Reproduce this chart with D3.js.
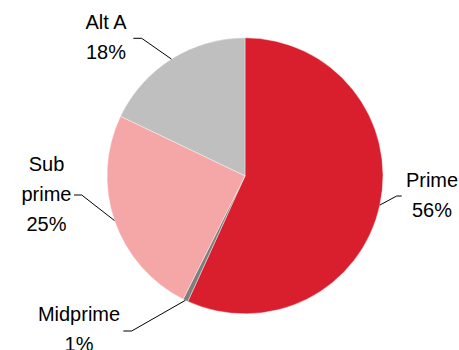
<!DOCTYPE html>
<html><head><meta charset="utf-8">
<script src="https://cdn.jsdelivr.net/npm/d3@7/dist/d3.min.js"></script>
<style>body{margin:0;background:#fff}svg{display:block}</style>
</head><body>
<svg id="c" width="459" height="350"></svg>
<script>
const categories = ["Prime", "Midprime", "Sub prime", "Alt A"];
const categoryLines = [["Prime"], ["Midprime"], ["Sub", "prime"], ["Alt A"]];
const values = [56.8, 0.6, 24.7, 17.9];
const labels = ["56%", "1%", "25%", "18%"];
const colors = ["#D91F2D", "#7F7F7F", "#F5A7A7", "#BFBFBF"];

const svg = d3.select("#c");
const cx = 245, cy = 175.8, r = 138;
const g = svg.append("g").attr("transform", `translate(${cx},${cy})`);
const pie = d3.pie().sort(null).value(d => d)(values);
const arc = d3.arc().innerRadius(0).outerRadius(r);
g.selectAll("path").data(pie).enter().append("path")
  .attr("d", arc).attr("fill", (d, i) => colors[i])
  .attr("stroke", "#fff").attr("stroke-width", 0.4);

const layout = [
  {tx: 432, ty: 186.7, line: [[401.7, 196], [396.7, 196]]},
  {tx: 79, ty: 320.7, line: [[123.3, 331], [131.7, 331]]},
  {tx: 46.5, ty: 170.7, line: [[74, 195], [81.7, 195]]},
  {tx: 106, ty: 29.3, line: [[133.3, 38.3], [141.7, 38.3]]}
];
const lineGen = d3.line();
pie.forEach((d, i) => {
  const mid = (d.startAngle + d.endAngle) / 2;
  const px = cx + Math.sin(mid) * r, py = cy - Math.cos(mid) * r;
  const L = layout[i];
  svg.append("path").attr("d", lineGen([L.line[0], L.line[1], [px, py]]))
    .attr("fill", "none").attr("stroke", "#000").attr("stroke-width", 1);
  const lines = categoryLines[i].concat([labels[i]]);
  const t = svg.append("text").attr("font-family", "Liberation Sans, Arial, sans-serif")
    .attr("font-size", 20).attr("fill", "#000").attr("text-anchor", "middle");
  lines.forEach((s, k) => t.append("tspan").attr("x", L.tx).attr("y", L.ty + k * 30).text(s));
});
</script>
</body></html>
